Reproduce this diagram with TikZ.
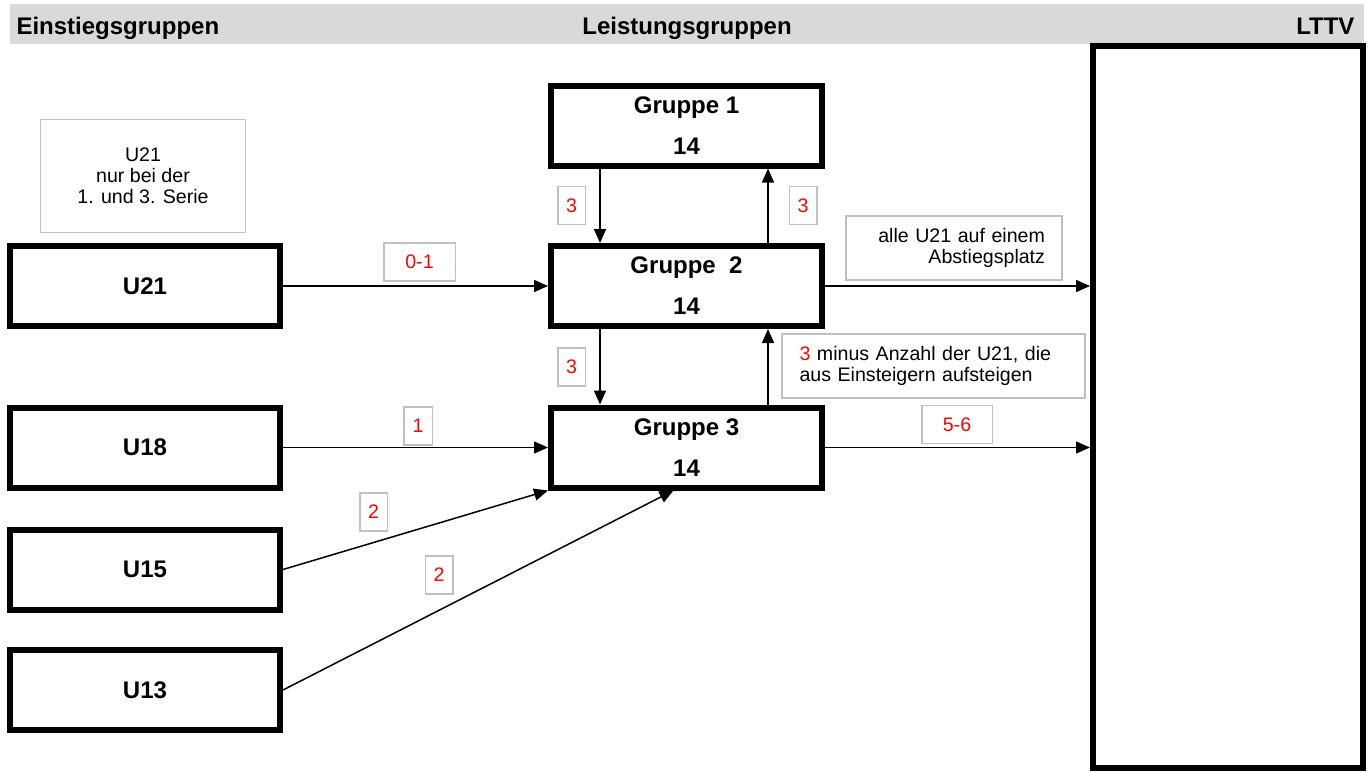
\documentclass[tikz,border=0pt]{standalone}
\usepackage{fontspec}
\setmainfont{Liberation Sans}
\usetikzlibrary{arrows.meta}

\definecolor{kopfgrau}{HTML}{D9D9D9}
\definecolor{randgrau}{HTML}{C0C0C0}

\tikzset{
	gruppe/.style={draw, line width=6pt, minimum width=271pt, minimum height=80pt, align=center, font=\bfseries\fontsize{24}{41}\selectfont},
	einstieg/.style={draw, line width=6pt, minimum width=270pt, minimum height=80pt, font=\bfseries\fontsize{24}{29}\selectfont},
	anzahl/.style={draw=randgrau, line width=1.5pt, text=red, minimum height=38pt, inner sep=0pt, font=\fontsize{19.6}{24}\selectfont},
	hinweis/.style={draw=randgrau, line width=1.5pt, font=\fontsize{19.6}{21}\selectfont},
	kopf/.style={font=\bfseries\fontsize{24}{29}\selectfont},
	pfeil/.style={line width=1.5pt, -{Triangle[length=14pt,width=12pt]}}
}

\begin{document}
\begin{tikzpicture}[x=1pt, y=-1pt]
	\useasboundingbox (0,0) rectangle (1370,771);
	\fill[kopfgrau] (10,4) rectangle (1364,44);
	
	\node[kopf, anchor=base west] (k1) at (13,34) {Einstiegsgruppen};
	\node[kopf, anchor=base] (k2) at (687,34) {Leistungsgruppen};
	\node[kopf, anchor=base east] (k3) at (1358,34) {LTTV};
	
	\node[draw, line width=6pt, minimum width=270pt, minimum height=722pt] (lttv) at (1228,407) {};
	
	\node[hinweis, minimum width=205pt, minimum height=113pt, align=center] (info) at (143,176) {U21\\nur bei der\\1. und 3. Serie};
	
	\node[einstieg] (u21) at (145,286) {U21};
	\node[einstieg] (u18) at (145,447.5) {U18};
	\node[einstieg] (u15) at (145,569.5) {U15};
	\node[einstieg] (u13) at (145,690) {U13};
	
	\node[gruppe] (g1) at (686.5,125.5) {Gruppe 1\\14};
	\node[gruppe] (g2) at (686.5,286) {Gruppe~~2\\14};
	\node[gruppe] (g3) at (686.5,447.5) {Gruppe 3\\14};
	
	\draw[pfeil] ([xshift=-86.5pt]g1.south) -- ([xshift=-86.5pt]g2.north);
	\draw[pfeil] ([xshift=81.5pt]g2.north) -- ([xshift=81.5pt]g1.south);
	\draw[pfeil] ([xshift=-86.5pt]g2.south) -- ([xshift=-86.5pt]g3.north);
	\draw[pfeil] ([xshift=81.5pt]g3.north) -- ([xshift=81.5pt]g2.south);
	
	\draw[pfeil] (u21.east) -- (g2.west);
	\draw[pfeil] (u18.east) -- (g3.west);
	\draw[pfeil] (u15.east) -- (g3.south west);
	\draw[pfeil] (u13.east) -- ([xshift=-13pt]g3.south);
	
	\draw[pfeil] (g2.east) -- (g2.east -| lttv.west);
	\draw[pfeil] (g3.east) -- (g3.east -| lttv.west);
	
	\node[anzahl, minimum width=27.5pt] (a1) at (571.5,205.5) {3};
	\node[anzahl, minimum width=27.5pt] (a2) at (803,205.5) {3};
	\node[anzahl, minimum width=27.5pt] (a3) at (571.5,367) {3};
	\node[anzahl, minimum width=71.5pt] (a4) at (419.5,262) {0-1};
	\node[anzahl, minimum width=28.5pt] (a5) at (418,426) {1};
	\node[anzahl, minimum width=27.5pt] (a6) at (373.5,512) {2};
	\node[anzahl, minimum width=27.5pt] (a7) at (439,575) {2};
	\node[anzahl, minimum width=70.5pt] (a8) at (957,424.5) {5-6};
	
	\node[hinweis, minimum width=216pt, minimum height=64pt, text width=182pt, inner xsep=17pt, align=right] (abstieg) at (954,248) {alle U21 auf einem\\Abstiegsplatz};
	\node[hinweis, minimum width=303pt, minimum height=64pt, text width=268pt, inner xsep=17pt, align=left] (aufstieg) at (933.5,366) {{\color{red}3} minus Anzahl der U21, die\\aus Einsteigern aufsteigen};
\end{tikzpicture}
\end{document}
